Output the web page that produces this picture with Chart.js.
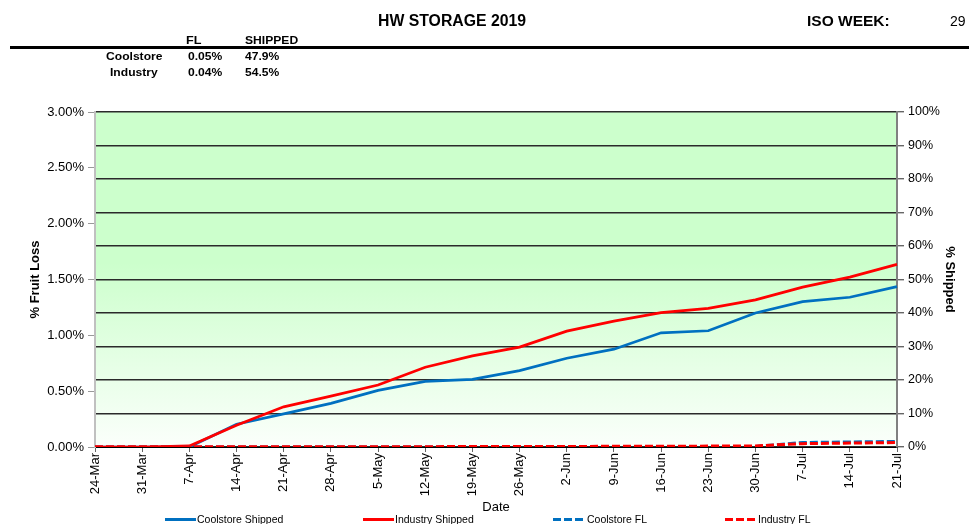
<!DOCTYPE html>
<html>
<head>
<meta charset="utf-8">
<script src="https://cdn.jsdelivr.net/npm/chart.js@4/dist/chart.umd.min.js"></script>
<style>
  html, body { margin: 0; padding: 0; background: #fff; }
  #wrap { position: relative; width: 980px; height: 524px; overflow: hidden; font-family: "Liberation Sans", Arial, sans-serif; color: #000; }
  #wrap canvas { position: absolute; left: 0; top: 0; }
  .t { position: absolute; white-space: nowrap; line-height: 16px; height: 16px; }
  .b { font-weight: bold; }
  .rule { position: absolute; left: 10px; top: 46px; width: 959px; height: 3px; background: #000; }
  .leg { position: absolute; font-size: 10.5px; line-height: 12px; top: 513px; white-space: nowrap; }
  .sw { position: absolute; top: 518px; height: 3px; }
</style>
</head>
<body>
<div id="wrap">
  <canvas id="c" width="980" height="524"></canvas>
  <div class="t b" style="left:378px;top:13px;font-size:15.8px;">HW STORAGE 2019</div>
  <div class="t b" style="left:807px;top:13px;font-size:15.5px;">ISO WEEK:</div>
  <div class="t" style="left:950px;top:13px;font-size:14px;">29</div>
  <div class="rule"></div>
  <div class="t b" style="left:186px;top:32px;font-size:11px;transform:scaleX(1.15);transform-origin:left center;">FL</div>
  <div class="t b" style="left:245px;top:32px;font-size:11px;transform:scaleX(1.1);transform-origin:left center;">SHIPPED</div>
  <div class="t b" style="left:106px;top:48px;font-size:11px;transform:scaleX(1.1);transform-origin:left center;">Coolstore</div>
  <div class="t b" style="left:188px;top:48px;font-size:11px;transform:scaleX(1.1);transform-origin:left center;">0.05%</div>
  <div class="t b" style="left:245px;top:48px;font-size:11px;transform:scaleX(1.1);transform-origin:left center;">47.9%</div>
  <div class="t b" style="left:110px;top:64px;font-size:11px;transform:scaleX(1.1);transform-origin:left center;">Industry</div>
  <div class="t b" style="left:188px;top:64px;font-size:11px;transform:scaleX(1.1);transform-origin:left center;">0.04%</div>
  <div class="t b" style="left:245px;top:64px;font-size:11px;transform:scaleX(1.1);transform-origin:left center;">54.5%</div>

  <div class="sw" style="left:165px;width:31px;background:#0070C0;"></div>
  <div class="leg" style="left:197px;">Coolstore Shipped</div>
  <div class="sw" style="left:363px;width:31px;background:#FF0000;"></div>
  <div class="leg" style="left:395px;">Industry Shipped</div>
  <div class="sw" style="left:553px;width:31px;background:repeating-linear-gradient(to right,#0070C0 0 8px,transparent 8px 11px);"></div>
  <div class="leg" style="left:587px;">Coolstore FL</div>
  <div class="sw" style="left:725px;width:31px;background:repeating-linear-gradient(to right,#FF0000 0 8px,transparent 8px 11px);"></div>
  <div class="leg" style="left:758px;">Industry FL</div>
</div>
<script>
const dates = ['24-Mar','31-Mar','7-Apr','14-Apr','21-Apr','28-Apr','5-May','12-May','19-May','26-May','2-Jun','9-Jun','16-Jun','23-Jun','30-Jun','7-Jul','14-Jul','21-Jul'];
const coolstoreShipped = [0, 0, 0, 6.8, 9.9, 13.0, 16.9, 19.6, 20.2, 22.8, 26.5, 29.2, 34.1, 34.7, 40.0, 43.4, 44.7, 47.9];
const industryShipped  = [0, 0, 0.3, 6.5, 12.0, 15.2, 18.5, 23.8, 27.2, 29.8, 34.6, 37.6, 40.1, 41.4, 43.9, 47.7, 50.7, 54.5];
const coolstoreFL = [0, 0, 0, 0, 0, 0, 0, 0, 0, 0, 0, 0, 0, 0, 0.005, 0.04, 0.045, 0.05];
const industryFL  = [0.002, 0.002, 0.002, 0.002, 0.002, 0.003, 0.003, 0.003, 0.004, 0.004, 0.005, 0.006, 0.007, 0.008, 0.01, 0.03, 0.035, 0.04];
const flTicks = [0, 0.5, 1, 1.5, 2, 2.5, 3];
const shippedTicks = [0, 10, 20, 30, 40, 50, 60, 70, 80, 90, 100];

const FONT = "'Liberation Sans', Arial, sans-serif";

const bgPlugin = {
  id: 'plotBg',
  beforeDraw(chart) {
    const {ctx, chartArea: a} = chart;
    const g = ctx.createLinearGradient(0, a.top, 0, a.bottom);
    g.addColorStop(0, '#ccffcc');
    g.addColorStop(0.45, '#ccffcc');
    g.addColorStop(1, '#fbfffb');
    ctx.save();
    ctx.fillStyle = g;
    ctx.fillRect(a.left, a.top, a.right - a.left, a.bottom - a.top);
    ctx.restore();
  }
};

new Chart(document.getElementById('c'), {
  type: 'line',
  data: {
    labels: dates,
    datasets: [
      { label: 'Coolstore Shipped', data: coolstoreShipped, yAxisID: 'yS', borderColor: '#0070C0', borderWidth: 2.75, pointRadius: 0, tension: 0, order: 3 },
      { label: 'Industry Shipped', data: industryShipped, yAxisID: 'yS', borderColor: '#FF0000', borderWidth: 2.75, pointRadius: 0, tension: 0, order: 2 },
      { label: 'Coolstore FL', data: coolstoreFL, yAxisID: 'yF', borderColor: '#0070C0', borderWidth: 3, borderDash: [8, 3], pointRadius: 0, tension: 0, order: 1 },
      { label: 'Industry FL', data: industryFL, yAxisID: 'yF', borderColor: '#FF0000', borderWidth: 3, borderDash: [8, 3], pointRadius: 0, tension: 0, order: 0 }
    ]
  },
  options: {
    responsive: false,
    animation: false,
    layout: { padding: { top: 112, bottom: 9, left: 0, right: 0 } },
    plugins: { legend: { display: false }, tooltip: { enabled: false }, title: { display: false } },
    scales: {
      x: {
        type: 'category',
        offset: false,
        grid: { drawOnChartArea: false, drawTicks: true, tickLength: 5, color: '#666' },
        border: { display: true, color: '#000', width: 1 },
        ticks: { autoSkip: false, maxRotation: 90, minRotation: 90, padding: 1, color: '#000', font: { family: FONT, size: 13 } },
        title: { display: true, text: 'Date', color: '#000', padding: { top: 0, bottom: 0 }, font: { family: FONT, size: 13 } },
        afterFit(s) { s.height = 68; }
      },
      yF: {
        position: 'left',
        min: 0, max: 3,
        afterBuildTicks(s) { s.ticks = flTicks.map(v => ({ value: v })); },
        grid: { drawOnChartArea: false, drawTicks: true, tickLength: 7, color: '#999' },
        border: { display: true, color: '#c0c0c0', width: 2 },
        ticks: { padding: 4, color: '#000', font: { family: FONT, size: 13 }, callback: v => v.toFixed(2) + '%' },
        title: { display: true, text: '% Fruit Loss', color: '#000', padding: { top: 28, bottom: 0 }, font: { family: FONT, size: 13, weight: 'bold' } },
        afterFit(s) { s.width = 95; }
      },
      yS: {
        position: 'right',
        min: 0, max: 100,
        afterBuildTicks(s) { s.ticks = shippedTicks.map(v => ({ value: v })); },
        grid: { drawOnChartArea: true, drawTicks: true, tickLength: 7, lineWidth: 1.4, color: '#2a2a2a', tickColor: '#666' },
        border: { display: true, color: '#808080', width: 2 },
        ticks: { padding: 4, color: '#000', font: { family: FONT, size: 12.5 }, callback: v => v + '%' },
        title: { display: true, text: '% Shipped', color: '#000', padding: { top: 23, bottom: 0 }, font: { family: FONT, size: 13, weight: 'bold' } },
        afterFit(s) { s.width = 83; }
      }
    }
  },
  plugins: [bgPlugin]
});
</script>
</body>
</html>
